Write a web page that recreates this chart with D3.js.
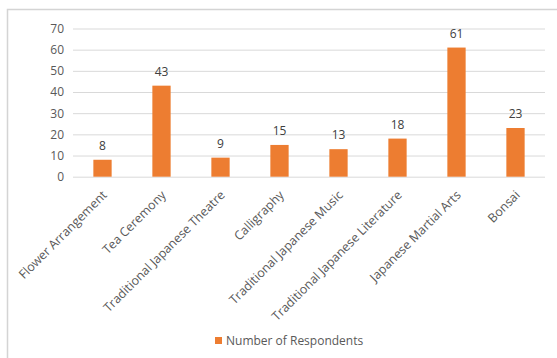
<!DOCTYPE html>
<html><head><meta charset="utf-8">
<script src="https://cdn.jsdelivr.net/npm/d3@7"></script>
<style>body{margin:0;background:#fff}svg{display:block}text{font-family:"Open Sans",sans-serif}</style>
</head><body>
<svg id="c" width="557" height="358"></svg>
<script>
const categories = ["Flower Arrangement","Tea Ceremony","Traditional Japanese Theatre","Calligraphy","Traditional Japanese Music","Traditional Japanese Literature","Japanese Martial Arts","Bonsai"];
const values = [8,43,9,15,13,18,61,23];
const yTicks = [0,10,20,30,40,50,60,70];
const seriesName = "Number of Respondents";

const svg = d3.select("#c");
const color = "#ED7D31", textColor = "#595959";
// frame
svg.append("path").attr("d","M7.5,358 V9.5 H557").attr("fill","none").attr("stroke","#d4d4d4").attr("stroke-width",1.5);

const x = d3.scaleBand().domain(categories).range([73,545]).paddingInner(0.69).paddingOuter(0.345);
const y = d3.scaleLinear().domain([0,70]).range([176.7,28.5]);

const yAxis = svg.append("g").attr("transform","translate(73,0)")
  .call(d3.axisLeft(y).tickValues(yTicks).tickSize(-472).tickPadding(9));
yAxis.select(".domain").remove();
yAxis.selectAll("line").attr("stroke","#d9d9d9").attr("stroke-width",1);
yAxis.selectAll("text").attr("fill",textColor).style("font-size","12px").style("font-family","'Open Sans',sans-serif");

svg.append("g").selectAll("rect").data(values).join("rect")
  .attr("x",(d,i)=>x(categories[i])).attr("width",x.bandwidth())
  .attr("y",d=>y(d)).attr("height",d=>y(0)-y(d)).attr("fill",color);

svg.append("g").selectAll("text").data(values).join("text")
  .attr("x",(d,i)=>x(categories[i])+x.bandwidth()/2).attr("y",d=>y(d)-10)
  .attr("text-anchor","middle").attr("fill","#404040").style("font-size","12px").text(d=>d);

const xAxis = svg.append("g").attr("transform",`translate(0,${y(0)})`)
  .call(d3.axisBottom(x).tickSize(0).tickPadding(0));
xAxis.select(".domain").remove();
xAxis.selectAll("text")
  .attr("fill",textColor).style("font-size","12.4px").style("font-family","'Open Sans',sans-serif")
  .attr("text-anchor","end").attr("dy","0.7em")
  .attr("transform","translate(-1,13) rotate(-45)");

const lg = svg.append("g").attr("transform","translate(215,337)");
lg.append("rect").attr("width",7).attr("height",7).attr("fill",color);
lg.append("text").attr("x",11).attr("y",3.5).attr("dy","0.35em").attr("fill",textColor).style("font-size","12px").text(seriesName);
</script>
</body></html>
